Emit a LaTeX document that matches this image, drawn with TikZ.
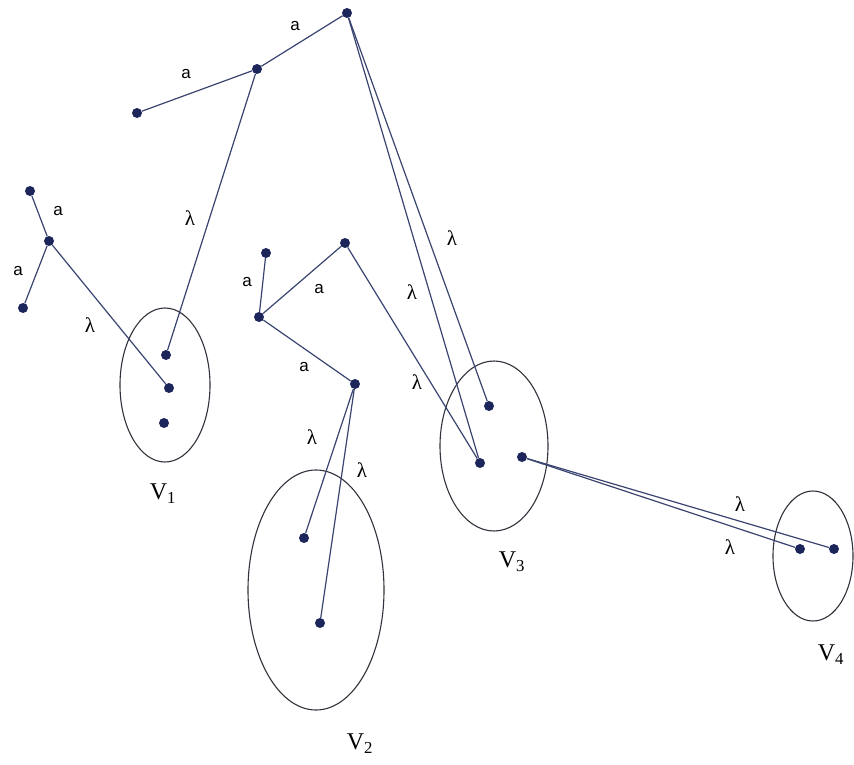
\documentclass[tikz,border=0pt]{standalone}
\usepackage{fontspec}
\setmainfont{Liberation Serif}
\newfontfamily\lblsans{Liberation Sans}
\begin{document}
\begin{tikzpicture}[x=1pt,y=-1pt,
  dotnode/.style={circle,fill=dotc,draw=none,inner sep=0pt,minimum size=10pt},
  edge/.style={draw=edgec,line width=1.2pt},
  ell/.style={draw=ellc,line width=1.1pt},
  alab/.style={font=\lblsans\fontsize{17}{17}\selectfont,text=black,inner sep=0pt},
  llab/.style={font=\fontsize{21}{21}\selectfont,text=black,inner sep=0pt},
  vlab/.style={font=\fontsize{24}{24}\selectfont,text=black,inner sep=0pt}]
\definecolor{dotc}{RGB}{28,38,90}
\definecolor{edgec}{RGB}{58,68,112}
\definecolor{ellc}{RGB}{50,50,60}
\useasboundingbox (0,0) rectangle (854,765);
\fill[white] (0,0) rectangle (854,765);
% ellipses
\draw[ell] (165,385) ellipse [x radius=45pt, y radius=77pt];
\draw[ell] (316,590) ellipse [x radius=68pt, y radius=120pt];
\draw[ell] (494,446) ellipse [x radius=54pt, y radius=85pt];
\draw[ell] (813,556) ellipse [x radius=40pt, y radius=65pt];
% dots
\node[dotnode] (t1) at (347,13) {};
\node[dotnode] (t2) at (257,69) {};
\node[dotnode] (t3) at (137,113) {};
\node[dotnode] (l1) at (30,191) {};
\node[dotnode] (l2) at (49,241) {};
\node[dotnode] (l3) at (23,308) {};
\node[dotnode] (m1) at (266,253) {};
\node[dotnode] (m2) at (345,243) {};
\node[dotnode] (m3) at (259,317) {};
\node[dotnode] (m4) at (355,384) {};
\node[dotnode] (a1) at (166,355) {};
\node[dotnode] (a2) at (169,388) {};
\node[dotnode] (a3) at (164,423) {};
\node[dotnode] (b1) at (304,538) {};
\node[dotnode] (b2) at (320,623) {};
\node[dotnode] (c1) at (489,406) {};
\node[dotnode] (c2) at (480,463) {};
\node[dotnode] (c3) at (522,457) {};
\node[dotnode] (d1) at (800,549) {};
\node[dotnode] (d2) at (834,549) {};
% edges
\draw[edge] (t3) -- (t2);
\draw[edge] (t2) -- (t1);
\draw[edge] (t2) -- (a1);
\draw[edge] (t1) -- (c1);
\draw[edge] (t1) -- (c2);
\draw[edge] (l1) -- (l2);
\draw[edge] (l2) -- (l3);
\draw[edge] (l2) -- (a2);
\draw[edge] (m1) -- (m3);
\draw[edge] (m3) -- (m2);
\draw[edge] (m3) -- (m4);
\draw[edge] (m2) -- (c2);
\draw[edge] (m4) -- (b1);
\draw[edge] (m4) -- (b2);
\draw[edge] (c3) -- (d1);
\draw[edge] (c3) -- (d2);
% labels
\node[alab] (la1) at (186,74) {a};
\node[alab] (la2) at (295,26) {a};
\node[alab] (la3) at (58,211) {a};
\node[alab] (la4) at (18,271) {a};
\node[alab] (la5) at (247,282) {a};
\node[alab] (la6) at (319,289) {a};
\node[alab] (la7) at (304,367) {a};
\node[llab] (ll1) at (190,218) {λ};
\node[llab] (ll2) at (452,238) {λ};
\node[llab] (ll3) at (412,292) {λ};
\node[llab] (ll4) at (417,382) {λ};
\node[llab] (ll5) at (90,325) {λ};
\node[llab] (ll6) at (312,437) {λ};
\node[llab] (ll7) at (362,470) {λ};
\node[llab] (ll8) at (740,504) {λ};
\node[llab] (ll9) at (730,547) {λ};
\node[vlab] (v1) at (163,494) {V\textsubscript{1}};
\node[vlab] (v2) at (360,744) {V\textsubscript{2}};
\node[vlab] (v3) at (512,562) {V\textsubscript{3}};
\node[vlab] (v4) at (831,655) {V\textsubscript{4}};
\end{tikzpicture}
\end{document}
